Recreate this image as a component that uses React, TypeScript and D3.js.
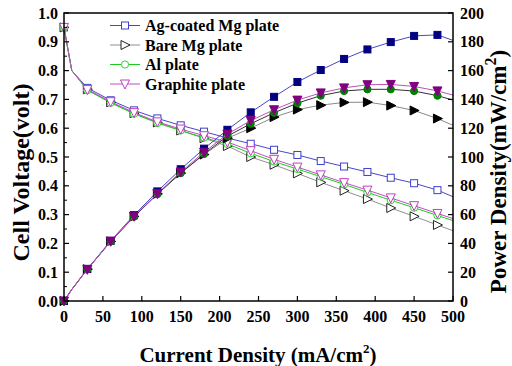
import * as d3 from 'd3';

// current density (mA/cm2)
const current = [0, 10, 30, 60, 90, 120, 150, 180, 210, 240, 270, 300, 330, 360, 390, 420, 450, 480, 500];

// cell voltage (volt)
const agVoltage = [0.95, 0.8, 0.74, 0.697, 0.662, 0.634, 0.61, 0.588, 0.566, 0.546, 0.525, 0.507, 0.486, 0.467, 0.448, 0.428, 0.409, 0.385, 0.362];
const bareVoltage = [0.95, 0.8, 0.735, 0.69, 0.652, 0.62, 0.592, 0.565, 0.538, 0.5, 0.473, 0.443, 0.412, 0.383, 0.354, 0.323, 0.294, 0.264, 0.244];
const alVoltage = [0.95, 0.8, 0.732, 0.688, 0.65, 0.618, 0.592, 0.567, 0.545, 0.513, 0.484, 0.458, 0.432, 0.405, 0.377, 0.35, 0.324, 0.297, 0.279];
const graphiteVoltage = [0.95, 0.8, 0.734, 0.692, 0.654, 0.622, 0.597, 0.574, 0.552, 0.522, 0.492, 0.465, 0.438, 0.411, 0.385, 0.358, 0.331, 0.304, 0.286];

// power density (mW/cm2)
const agPower = [0, 8, 22.2, 41.8, 59.6, 76.1, 91.5, 105.8, 118.9, 131, 141.8, 152.1, 160.4, 168.1, 174.7, 179.8, 184.1, 184.8, 181];
const barePower = [0, 8, 22.1, 41.4, 58.7, 74.4, 88.8, 101.7, 113, 120, 127.7, 132.9, 136, 137.9, 138.1, 135.7, 132.3, 126.7, 122];
const alPower = [0, 8, 22, 41.3, 58.5, 74.2, 88.8, 102.1, 114.5, 123.1, 130.7, 137.4, 142.6, 145.8, 147, 147, 145.8, 142.6, 139.5];
const graphitePower = [0, 8, 22, 41.5, 58.9, 74.6, 89.6, 103.3, 115.9, 125.3, 132.8, 139.5, 144.5, 148, 150.2, 150.4, 149, 145.9, 143];

const seriesNames = ['Ag-coated Mg plate', 'Bare Mg plate', 'Al plate', 'Graphite plate'];

const xTicks = [0, 50, 100, 150, 200, 250, 300, 350, 400, 450, 500];
const vTicks = [0, 0.1, 0.2, 0.3, 0.4, 0.5, 0.6, 0.7, 0.8, 0.9, 1.0];
const pTicks = [0, 20, 40, 60, 80, 100, 120, 140, 160, 180, 200];

const W = 512;
const H = 366;
const M = { left: 64, right: 453, top: 13, bottom: 301 };
const FONT = '"Liberation Serif", "Times New Roman", serif';

type Shape = 'square' | 'rtri' | 'circle' | 'dtri';

function Marker({ shape, x, y, fill, stroke }: { shape: Shape; x: number; y: number; fill: string; stroke: string }) {
  const sw = 1;
  if (shape === 'square') return <rect x={x - 3.5} y={y - 3.5} width={7} height={7} fill={fill} stroke={stroke} strokeWidth={sw} />;
  if (shape === 'circle') return <circle cx={x} cy={y} r={3.6} fill={fill} stroke={stroke} strokeWidth={sw} />;
  if (shape === 'rtri')
    return <path d={`M${x - 4},${y - 4.5}L${x + 5},${y}L${x - 4},${y + 4.5}Z`} fill={fill} stroke={stroke} strokeWidth={sw} />;
  return <path d={`M${x - 4.5},${y - 4}L${x + 4.5},${y - 4}L${x},${y + 5}Z`} fill={fill} stroke={stroke} strokeWidth={sw} />;
}

export default function App() {
  const x = d3.scaleLinear().domain([0, 500]).range([M.left, M.right]);
  const yV = d3.scaleLinear().domain([0, 1]).range([M.bottom, M.top]);
  const yP = d3.scaleLinear().domain([0, 200]).range([M.bottom, M.top]);

  const series = [
    { name: seriesNames[0], v: agVoltage, p: agPower, shape: 'square' as Shape, vLine: '#4848c8', vMark: '#4040c8', pLine: '#4848c8', pFill: '#000080' },
    { name: seriesNames[1], v: bareVoltage, p: barePower, shape: 'rtri' as Shape, vLine: '#909090', vMark: '#222222', pLine: '#8a8a8a', pFill: '#000000' },
    { name: seriesNames[2], v: alVoltage, p: alPower, shape: 'circle' as Shape, vLine: '#22c822', vMark: '#22dd22', pLine: '#333333', pFill: '#008000' },
    { name: seriesNames[3], v: graphiteVoltage, p: graphitePower, shape: 'dtri' as Shape, vLine: '#c050c0', vMark: '#c040c0', pLine: '#c050c0', pFill: '#800080' },
  ];

  const vLine = (vals: number[]) =>
    d3.line<number>().x((_, i) => x(current[i])).y((d) => yV(d))(vals) || '';
  const pLine = (vals: number[]) =>
    d3.line<number>().x((_, i) => x(current[i])).y((d) => yP(d))(vals) || '';
  const marked = (i: number) => current[i] % 30 === 0;

  const vMinor = d3.range(0.05, 1, 0.1);

  return (
    <div style={{ position: 'fixed', left: 0, top: 0 }}>
      <svg width={W} height={H} style={{ display: 'block', background: '#fff' }} fontFamily={FONT}>
        {/* voltage curves */}
        {series.map((s) => (
          <g key={'v' + s.name}>
            <path d={vLine(s.v)} fill="none" stroke={s.vLine} strokeWidth={1} />
            {s.v.map((d, i) =>
              marked(i) ? <Marker key={i} shape={s.shape} x={x(current[i])} y={yV(d)} fill="#fff" stroke={s.vMark} /> : null
            )}
          </g>
        ))}
        {/* power curves */}
        {series.map((s) => (
          <g key={'p' + s.name}>
            <path d={pLine(s.p)} fill="none" stroke={s.pLine} strokeWidth={1} />
            {s.p.map((d, i) =>
              marked(i) ? <Marker key={i} shape={s.shape} x={x(current[i])} y={yP(d)} fill={s.pFill} stroke={s.pFill} /> : null
            )}
          </g>
        ))}

        {/* frame */}
        <rect x={M.left} y={M.top} width={M.right - M.left} height={M.bottom - M.top} fill="none" stroke="#000" strokeWidth={1.5} />

        {/* bottom axis */}
        {xTicks.map((t) => (
          <g key={'x' + t}>
            <line x1={x(t)} x2={x(t)} y1={M.bottom} y2={M.bottom - 5} stroke="#000" strokeWidth={1.2} />
            <text x={x(t)} y={322} textAnchor="middle" fontSize={16} fontWeight="bold">{t}</text>
          </g>
        ))}
        {/* left axis */}
        {vTicks.map((t) => (
          <g key={'v' + t}>
            <line x1={M.left} x2={M.left + 5} y1={yV(t)} y2={yV(t)} stroke="#000" strokeWidth={1.2} />
            <text x={58} y={yV(t) + 5.5} textAnchor="end" fontSize={16} fontWeight="bold">{t.toFixed(1)}</text>
          </g>
        ))}
        {vMinor.map((t) => (
          <line key={'vm' + t} x1={M.left} x2={M.left + 3} y1={yV(t)} y2={yV(t)} stroke="#000" strokeWidth={1} />
        ))}
        {/* right axis */}
        {pTicks.map((t) => (
          <g key={'p' + t}>
            <line x1={M.right} x2={M.right - 5} y1={yP(t)} y2={yP(t)} stroke="#000" strokeWidth={1.2} />
            <text x={460} y={yP(t) + 5.5} textAnchor="start" fontSize={16} fontWeight="bold">{t}</text>
          </g>
        ))}

        {/* axis titles */}
        <text x={258} y={362} textAnchor="middle" fontSize={21} fontWeight="bold">
          Current Density (mA/cm<tspan fontSize={13} dy={-9}>2</tspan><tspan dy={9}>)</tspan>
        </text>
        <text transform="translate(28.5,172.5) rotate(-90)" textAnchor="middle" fontSize={24} fontWeight="bold">
          Cell Voltage(volt)
        </text>
        <text transform="translate(506,171.5) rotate(-90)" textAnchor="middle" fontSize={23} fontWeight="bold">
          Power Density(mW/cm<tspan fontSize={16} dy={-10}>2</tspan><tspan dy={10}>)</tspan>
        </text>

        {/* legend */}
        {series.map((s, i) => {
          const ly = 25.5 + i * 19.5;
          return (
            <g key={'l' + s.name}>
              <line x1={110} x2={140} y1={ly} y2={ly} stroke={s.vLine} strokeWidth={1} />
              <Marker shape={s.shape} x={125} y={ly} fill="#fff" stroke={s.vMark} />
              <text x={145} y={ly + 5.5} fontSize={16} fontWeight="bold">{s.name}</text>
            </g>
          );
        })}
      </svg>
    </div>
  );
}
